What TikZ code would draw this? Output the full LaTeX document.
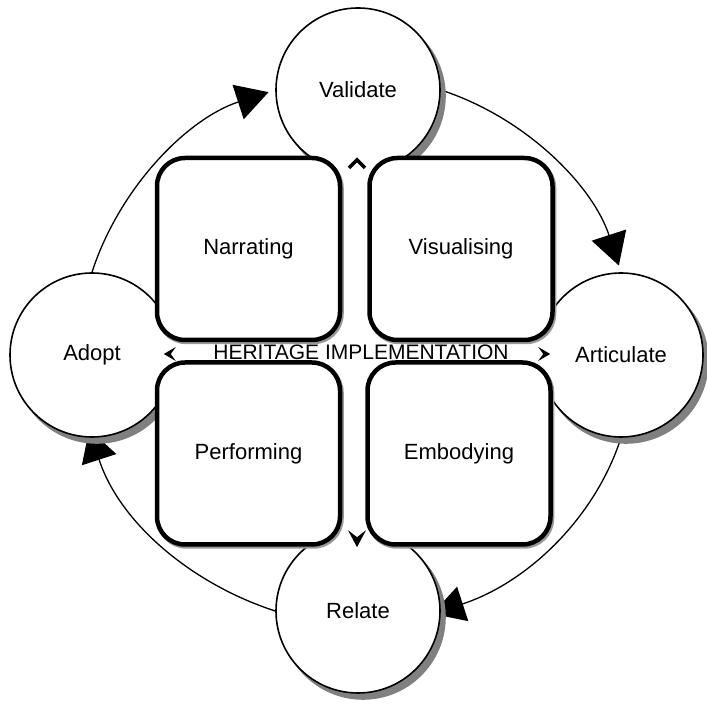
\documentclass[tikz,border=0pt]{standalone}
\usepackage{fontspec}
\setmainfont{Liberation Sans}
\usetikzlibrary{arrows.meta,backgrounds}

\begin{document}
\begin{tikzpicture}[x=1pt,y=1pt]
  % Styles for the outer cycle, the inner quadrants and the arrows
  \tikzset{
    stage/.style = {circle, draw, line width=1.6pt, fill=white, minimum size=164pt, inner sep=0pt,
                    font=\fontsize{22}{26}\selectfont},
    mode/.style  = {rectangle, rounded corners=28pt, draw, line width=4.5pt, fill=white,
                    minimum width=183pt, minimum height=182pt, inner sep=0pt,
                    font=\fontsize{22}{26}\selectfont},
    cyc/.style   = {line width=1.3pt, looseness=0.9, -{Triangle[length=32pt,width=36pt]}},
    hubmark/.style = {fill=black}
  }
  \useasboundingbox (0,0) rectangle (707,704);

  % --- Outer cycle: four stages, each with a grey shadow ---
  \foreach \name/\pos/\txt in {validate/{358,614}/Validate, articulate/{621,349}/Articulate,
                               relate/{358,93}/Relate, adopt/{92,349}/Adopt} {
    \fill[black!50] (\pos) ++(5,-6) circle[radius=82.8];
    \node[stage] (\name) at (\pos) {\txt};
  }

  % Arrows run clockwise, behind the circles
  \begin{scope}[on background layer]
    \draw[cyc, shorten >=7pt]  (adopt.north)      to[out=72, in=198]  (validate.west);
    \draw[cyc, shorten >=7pt]  (validate.east)    to[out=-18, in=108] (articulate.north);
    \draw[cyc, shorten >=-9pt] (articulate.south) to[out=-108, in=18] (relate.east);
    \draw[cyc, shorten >=-9pt] (relate.west)      to[out=162, in=-72] (adopt.south);
  \end{scope}

  % --- Inner hub with its small arrow marks ---
  \node[circle, fill=white, minimum size=386pt, inner sep=0pt] (hub) at (357,350) {};
  \draw[line width=3.5pt] ([shift={(-8,-7)}]hub.north) -- ([yshift=1pt]hub.north) -- ([shift={(8,-7)}]hub.north);
  \fill[hubmark] (hub.south) -- ++(-9,17) -- ++(9,-7) -- ++(9,7) -- cycle;
  \fill[hubmark] (hub.west) -- ++(12,7) -- ++(-5,-7) -- ++(5,-7) -- cycle;
  \fill[hubmark] (hub.east) -- ++(-12,7) -- ++(5,-7) -- ++(-5,-7) -- cycle;

  \node[font=\fontsize{21}{24}\selectfont] (title) at (361,352) {HERITAGE IMPLEMENTATION};

  % --- Four quadrants ---
  \foreach \name/\pos/\txt in {narrating/{248.5,455}/Narrating, visualising/{461,455}/Visualising,
                               performing/{248.5,250.5}/Performing, embodying/{459,250.5}/Embodying} {
    \draw[black!40, line width=4.5pt, rounded corners=28pt] (\pos) ++(-90,-93) rectangle ++(183,182);
    \node[mode] (\name) at (\pos) {\txt};
  }
\end{tikzpicture}
\end{document}
